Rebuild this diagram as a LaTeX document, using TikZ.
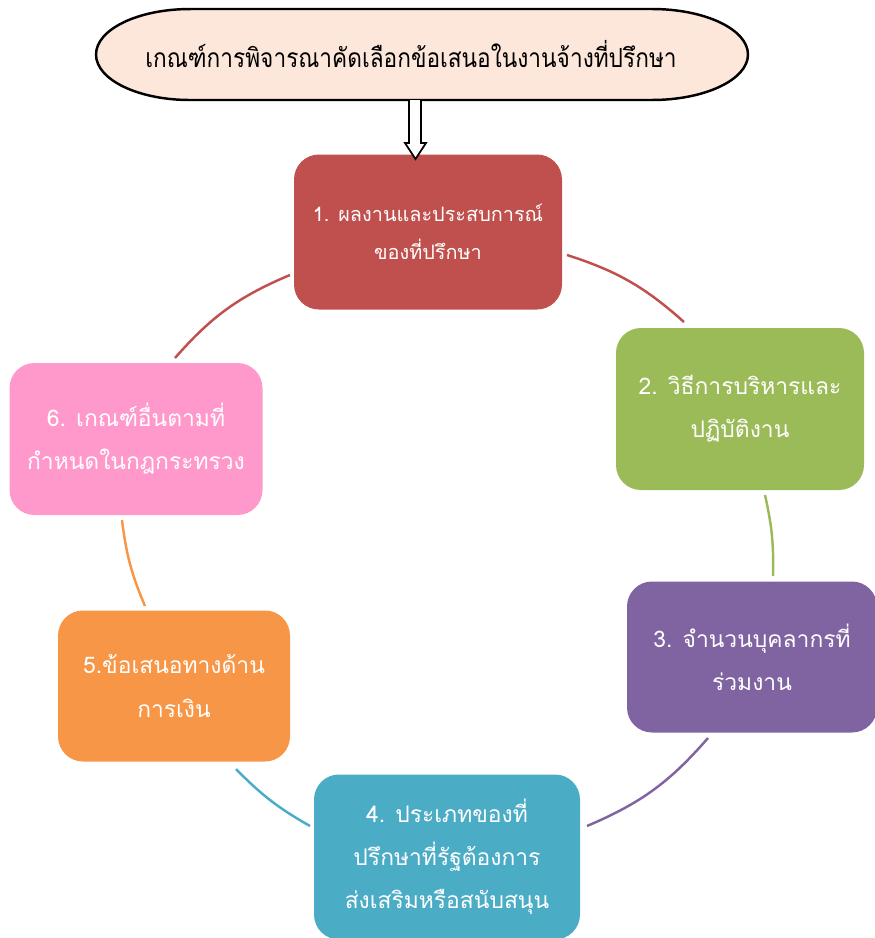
\documentclass[tikz,border=0pt]{standalone}
\usepackage{fontspec}
\newfontfamily\thaifont[Script=Thai]{Loma}
\newfontfamily\thaicond[Script=Thai,FakeStretch=0.86]{Loma}
\usetikzlibrary{calc}
\definecolor{cA}{HTML}{C0504D}
\definecolor{cB}{HTML}{9BBB59}
\definecolor{cC}{HTML}{8064A2}
\definecolor{cD}{HTML}{4BACC6}
\definecolor{cE}{HTML}{F79646}
\definecolor{cF}{HTML}{FF99CC}
\definecolor{peach}{HTML}{FCE7DA}
\tikzset{
  box/.style={rounded corners=0.5cm, inner sep=0pt, align=center, text=white,
    font=\thaifont\fontsize{13pt}{24.5pt}\selectfont},
  link/.style={line width=1.4pt},
}
\begin{document}
\begin{tikzpicture}[x=0.02cm,y=-0.02cm]
\useasboundingbox (0,0) rectangle (875,938);
% title shape
\draw[line width=1.4pt, fill=peach] (190,9) -- (652,9)
  arc[start angle=90,end angle=-90,x radius=1.92cm,y radius=0.91cm]
  -- (190,100)
  arc[start angle=270,end angle=90,x radius=1.88cm,y radius=0.91cm] -- cycle;
\node[font=\thaicond\fontsize{15pt}{18pt}\selectfont, inner sep=0pt] (title) at (411,54) {เกณฑ์การพิจารณาคัดเลือกข้อเสนอในงานจ้างที่ปรึกษา};
% boxes
\node[box, fill=cA, minimum width=268*0.02cm, minimum height=155*0.02cm,
  font=\thaifont\fontsize{11.3pt}{21.5pt}\selectfont] (b1) at (428,232) {1. ผลงานและประสบการณ์\\ของที่ปรึกษา};
\node[box, fill=cB, minimum width=248*0.02cm, minimum height=162*0.02cm] (b2) at (740,409) {2. วิธีการบริหารและ\\ปฏิบัติงาน};
\node[box, fill=cC, minimum width=250*0.02cm, minimum height=151*0.02cm] (b3) at (752,657) {3. จำนวนบุคลากรที่\\ร่วมงาน};
\node[box, fill=cD, minimum width=266*0.02cm, minimum height=165*0.02cm] (b4) at (447,857) {4. ประเภทของที่\\ปรึกษาที่รัฐต้องการ\\ส่งเสริมหรือสนับสนุน};
\node[box, fill=cE, minimum width=232*0.02cm, minimum height=151*0.02cm] (b5) at (174,686) {5.ข้อเสนอทางด้าน\\การเงิน};
\node[box, fill=cF, minimum width=253*0.02cm, minimum height=152*0.02cm] (b6) at (136,439) {6. เกณฑ์อื่นตามที่\\กำหนดในกฎกระทรวง};
% hollow arrow from title to box 1
\draw[line width=1pt, fill=white] (409,100) -- (409,143) -- (405,143) -- (415.5,159) -- (426,143) -- (421,143) -- (421,100);
% cycle arcs
\coordinate (a1) at (567,255); \coordinate (a2) at (684,322);
\coordinate (a3) at (765,495); \coordinate (a4) at (773,576);
\coordinate (a5) at (708,738); \coordinate (a6) at (587,826);
\coordinate (a7) at (310,826); \coordinate (a8) at (236,769);
\coordinate (a9) at (145,606); \coordinate (a10) at (122,520);
\coordinate (a11) at (175,358); \coordinate (a12) at (290,275);
\draw[link, cA] (a1) to[bend left=12] (a2);
\draw[link, cB] (a3) to[bend left=7] (a4);
\draw[link, cC] (a5) to[bend left=13] (a6);
\draw[link, cD] (a7) to[bend left=8] (a8);
\draw[link, cE] (a9) to[bend left=8] (a10);
\draw[link, cA] (a11) to[bend left=13] (a12);
\end{tikzpicture}
\end{document}
